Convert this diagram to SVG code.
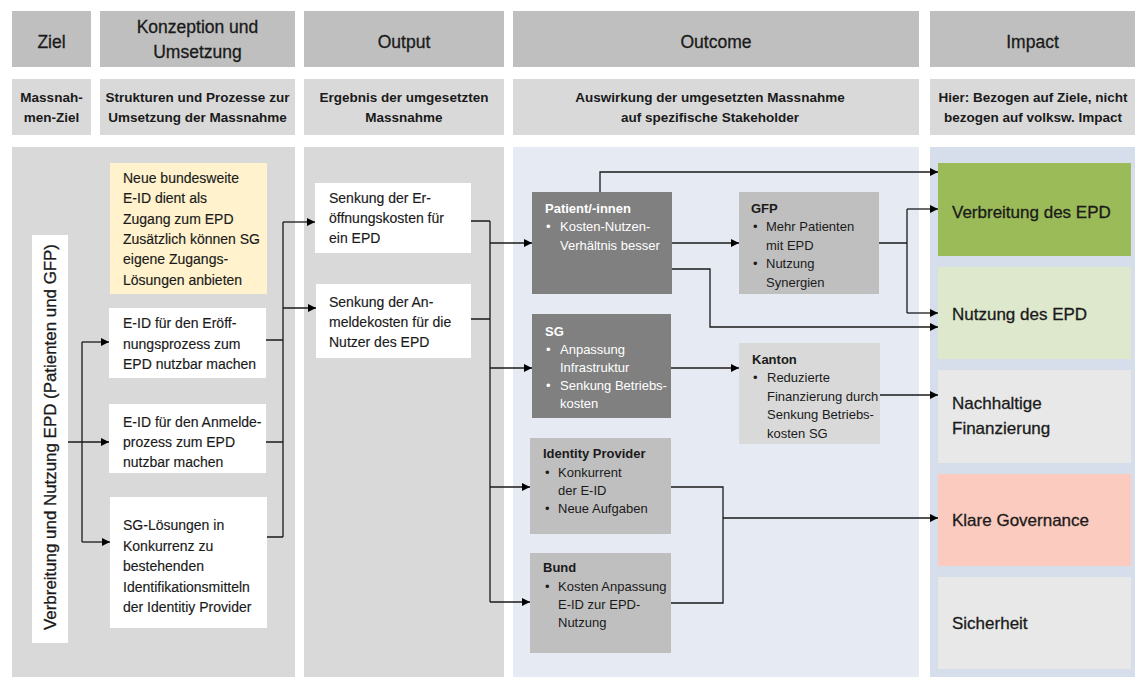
<svg xmlns="http://www.w3.org/2000/svg" width="1135" height="677" viewBox="0 0 1135 677">
<style>
text{font-family:"Liberation Sans",Arial,sans-serif;fill:#1a1a1a}
.h{font-size:17.5px;text-anchor:middle;stroke:#1a1a1a;stroke-width:0.3}
.s{font-size:13.5px;font-weight:bold;text-anchor:middle}
.b{font-size:14px;stroke:#1a1a1a;stroke-width:0.15}
.o{font-size:13px}
.ob{font-size:13px;font-weight:bold}
.w{fill:#fff}
.i{font-size:17px;stroke:#1a1a1a;stroke-width:0.3}
.hd{fill:#bfbfbf}
.sb{fill:#d9d9d9}
.ln{fill:none;stroke:#1a1a1a;stroke-width:1.3}
.ar{marker-end:url(#ah)}
</style>
<defs>
<marker id="ah" viewBox="0 0 10 10" refX="10" refY="5" markerWidth="9" markerHeight="8" orient="auto" markerUnits="userSpaceOnUse">
<path d="M0,0 L10,5 L0,10 z" fill="#000"/>
</marker>
</defs>
<rect width="1135" height="677" fill="#fff"/>

<g id="headers">
<rect class="hd" x="12" y="11" width="79" height="56"/>
<rect class="hd" x="100" y="11" width="195" height="56"/>
<rect class="hd" x="304" y="11" width="200" height="56"/>
<rect class="hd" x="513" y="11" width="406" height="56"/>
<rect class="hd" x="930" y="11" width="205" height="56"/>
<text class="h" x="51.5" y="47.5">Ziel</text>
<text class="h" x="197.5" y="33">Konzeption und</text>
<text class="h" x="197.5" y="58">Umsetzung</text>
<text class="h" x="404" y="47.5">Output</text>
<text class="h" x="716" y="47.5">Outcome</text>
<text class="h" x="1032.5" y="47.5">Impact</text>
</g>

<g id="subheaders">
<rect class="sb" x="12" y="79" width="79" height="56"/>
<rect class="sb" x="100" y="79" width="195" height="56"/>
<rect class="sb" x="304" y="79" width="200" height="56"/>
<rect class="sb" x="513" y="79" width="406" height="56"/>
<rect class="sb" x="930" y="79" width="205" height="56"/>
<text class="s" x="51.5" y="102">Massnah-</text>
<text class="s" x="51.5" y="122">men-Ziel</text>
<text class="s" x="197.5" y="102">Strukturen und Prozesse zur</text>
<text class="s" x="197.5" y="122">Umsetzung der Massnahme</text>
<text class="s" x="404" y="102">Ergebnis der umgesetzten</text>
<text class="s" x="404" y="122">Massnahme</text>
<text class="s" x="710" y="102">Auswirkung der umgesetzten Massnahme</text>
<text class="s" x="710" y="122">auf spezifische Stakeholder</text>
<text class="s" x="1033" y="102">Hier: Bezogen auf Ziele, nicht</text>
<text class="s" x="1033" y="122">bezogen auf volksw. Impact</text>
</g>

<g id="panels">
<rect x="12" y="147" width="283" height="530" fill="#d9d9d9"/>
<rect x="304" y="147" width="200" height="530" fill="#d9d9d9"/>
<rect x="513" y="147" width="406" height="530" fill="#e6ebf3"/>
<rect x="930" y="147" width="205" height="530" fill="#d5deea"/>
</g>

<g id="ziel">
<rect x="32" y="235" width="36" height="408" fill="#fff"/>
<text class="i" transform="translate(56,437) rotate(-90)" text-anchor="middle" textLength="386" lengthAdjust="spacingAndGlyphs">Verbreitung und Nutzung EPD (Patienten und GFP)</text>
</g>

<g id="k-eid-neu">
<rect x="110" y="163" width="157" height="131" fill="#fff2cc"/>
<text class="b" x="123" y="183">Neue bundesweite</text>
<text class="b" x="123" y="203.3">E-ID dient als</text>
<text class="b" x="123" y="223.6">Zugang zum EPD</text>
<text class="b" x="123" y="243.9">Zusätzlich können SG</text>
<text class="b" x="123" y="264.2">eigene Zugangs-</text>
<text class="b" x="123" y="284.5">Lösungen anbieten</text>
</g>

<g id="k-eroeff">
<rect x="109" y="308" width="157" height="70" fill="#fff"/>
<text class="b" x="123" y="328">E-ID für den Eröff-</text>
<text class="b" x="123" y="348.5">nungsprozess zum</text>
<text class="b" x="123" y="369">EPD nutzbar machen</text>
</g>

<g id="k-anmelde">
<rect x="109" y="404" width="157" height="69" fill="#fff"/>
<text class="b" x="123" y="427">E-ID für den Anmelde-</text>
<text class="b" x="123" y="447">prozess zum EPD</text>
<text class="b" x="123" y="467">nutzbar machen</text>
</g>

<g id="k-sg">
<rect x="110" y="497" width="157" height="131" fill="#fff"/>
<text class="b" x="123" y="530">SG-Lösungen in</text>
<text class="b" x="123" y="550.5">Konkurrenz zu</text>
<text class="b" x="123" y="571">bestehenden</text>
<text class="b" x="123" y="591.5">Identifikationsmitteln</text>
<text class="b" x="123" y="612">der Identitiy Provider</text>
</g>

<g id="o-eroeff">
<rect x="315" y="183" width="156" height="70" fill="#fff"/>
<text class="b" x="329" y="203">Senkung der Er-</text>
<text class="b" x="329" y="223">öffnungskosten für</text>
<text class="b" x="329" y="243">ein EPD</text>
</g>

<g id="o-anmelde">
<rect x="316" y="284" width="155" height="74" fill="#fff"/>
<text class="b" x="329" y="307">Senkung der An-</text>
<text class="b" x="329" y="327">meldekosten für die</text>
<text class="b" x="329" y="347">Nutzer des EPD</text>
</g>

<g id="oc-patient">
<rect x="532" y="192" width="140" height="102" fill="#808080"/>
<text class="ob w" x="545" y="213">Patient/-innen</text>
<text class="o w" x="546" y="231">•</text>
<text class="o w" x="560" y="231">Kosten-Nutzen-</text>
<text class="o w" x="560" y="250">Verhältnis besser</text>
</g>

<g id="oc-gfp">
<rect x="739" y="192" width="140" height="102" fill="#bfbfbf"/>
<text class="ob" x="751" y="213">GFP</text>
<text class="o" x="753" y="231">•</text>
<text class="o" x="766" y="231">Mehr Patienten</text>
<text class="o" x="766" y="249.5">mit EPD</text>
<text class="o" x="753" y="268">•</text>
<text class="o" x="766" y="268">Nutzung</text>
<text class="o" x="766" y="286.5">Synergien</text>
</g>

<g id="oc-sg">
<rect x="532" y="314" width="139" height="104" fill="#808080"/>
<text class="ob w" x="545" y="336">SG</text>
<text class="o w" x="546" y="354">•</text>
<text class="o w" x="560" y="354">Anpassung</text>
<text class="o w" x="560" y="372">Infrastruktur</text>
<text class="o w" x="546" y="390">•</text>
<text class="o w" x="560" y="390">Senkung Betriebs-</text>
<text class="o w" x="560" y="408">kosten</text>
</g>

<g id="oc-kanton">
<rect x="739" y="343" width="141" height="101" fill="#d9d9d9"/>
<text class="ob" x="752" y="364">Kanton</text>
<text class="o" x="753" y="382">•</text>
<text class="o" x="767" y="382">Reduzierte</text>
<text class="o" x="767" y="400.5">Finanzierung durch</text>
<text class="o" x="767" y="419">Senkung Betriebs-</text>
<text class="o" x="767" y="437.5">kosten SG</text>
</g>

<g id="oc-idp">
<rect x="530" y="438" width="141" height="96" fill="#bfbfbf"/>
<text class="ob" x="543" y="458">Identity Provider</text>
<text class="o" x="545" y="477">•</text>
<text class="o" x="558" y="477">Konkurrent</text>
<text class="o" x="558" y="495">der E-ID</text>
<text class="o" x="545" y="513">•</text>
<text class="o" x="558" y="513">Neue Aufgaben</text>
</g>

<g id="oc-bund">
<rect x="530" y="553" width="141" height="100" fill="#bfbfbf"/>
<text class="ob" x="543" y="572">Bund</text>
<text class="o" x="545" y="591">•</text>
<text class="o" x="558" y="591">Kosten Anpassung</text>
<text class="o" x="558" y="609">E-ID zur EPD-</text>
<text class="o" x="558" y="627">Nutzung</text>
</g>

<g id="im-verbreitung">
<rect x="938" y="163" width="193" height="93" fill="#9bbb59"/>
<text class="i" x="952" y="218">Verbreitung des EPD</text>
</g>
<g id="im-nutzung">
<rect x="938" y="267" width="193" height="92" fill="#dde8cc"/>
<text class="i" x="952" y="320">Nutzung des EPD</text>
</g>
<g id="im-finanzierung">
<rect x="938" y="370" width="193" height="93" fill="#e8e8e8"/>
<text class="i" x="952" y="409">Nachhaltige</text>
<text class="i" x="952" y="434">Finanzierung</text>
</g>
<g id="im-governance">
<rect x="938" y="474" width="193" height="92" fill="#fccbbf"/>
<text class="i" x="952" y="526">Klare Governance</text>
</g>
<g id="im-sicherheit">
<rect x="938" y="577" width="193" height="92" fill="#e8e8e8"/>
<text class="i" x="952" y="629">Sicherheit</text>
</g>

<g id="connectors">
<path class="ln ar" d="M68,442 H109"/>
<path class="ln" d="M82,342 V542"/>
<path class="ln ar" d="M82,342 H109"/>
<path class="ln ar" d="M82,542 H110"/>

<path class="ln" d="M266,340 H283 M266,442 H283 M267,537 H283 M283,222 V537"/>
<path class="ln ar" d="M283,222 H315"/>
<path class="ln ar" d="M283,308 H316"/>

<path class="ln" d="M471,221 H490 M471,319 H490 M490,221 V602"/>
<path class="ln ar" d="M490,243 H532"/>
<path class="ln ar" d="M490,368 H532"/>
<path class="ln ar" d="M490,487 H530"/>
<path class="ln ar" d="M490,602 H530"/>

<path class="ln ar" d="M600,192 V172 H938"/>
<path class="ln ar" d="M672,243 H739"/>
<path class="ln ar" d="M672,269 H710 V327 H938"/>
<path class="ln" d="M879,243 H907 M907,209 V313"/>
<path class="ln ar" d="M907,209 H938"/>
<path class="ln ar" d="M907,313 H938"/>
<path class="ln ar" d="M671,368 H739"/>
<path class="ln ar" d="M880,395 H938"/>
<path class="ln" d="M671,487 H723 V603 H671"/>
<path class="ln ar" d="M723,518 H938"/>
</g>
</svg>
